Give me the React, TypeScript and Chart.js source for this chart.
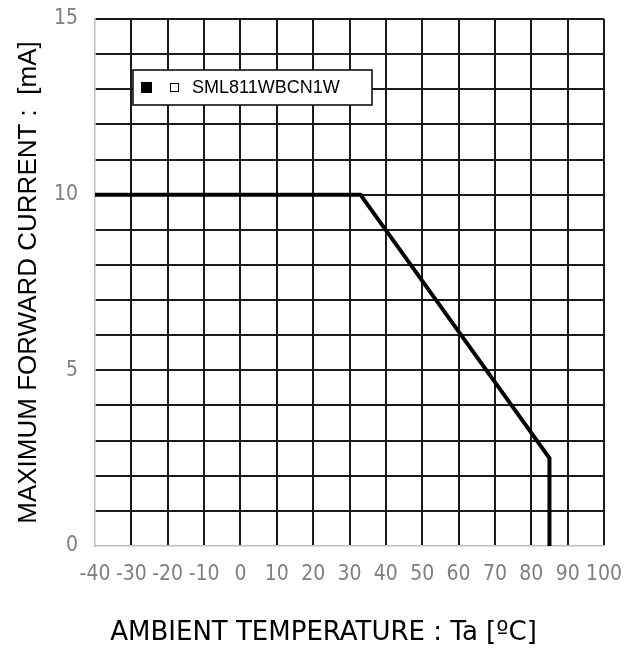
import React, { useEffect, useRef } from "react";
import { Chart, registerables } from "chart.js";

Chart.register(...registerables);

const temperatures = [-40, 33, 85, 85];
const currents = [10, 10, 2.5, 0];
const seriesName = "SML811WBCN1W";
const xTitle = "AMBIENT TEMPERATURE : Ta [ºC]";
const yTitle = "MAXIMUM FORWARD CURRENT :  [mA]";
const xMin = -40, xMax = 100, xStep = 10;
const yMin = 0, yMax = 15, yStep = 1, yLabelEvery = 5;

const tickFont = '"Liberation Sans Narrow", "DejaVu Sans Condensed", "Liberation Sans", sans-serif';

const overlayPlugin = {
  id: "overlay",
  afterDraw(chart: any) {
    const { ctx, chartArea } = chart;
    ctx.save();
    // legend box
    const bx = chartArea.left + 38, by = chartArea.top + 51, bw = 239, bh = 35;
    ctx.fillStyle = "#fff";
    ctx.fillRect(bx, by, bw, bh);
    ctx.strokeStyle = "#000";
    ctx.lineWidth = 1.5;
    ctx.strokeRect(bx, by, bw, bh);
    ctx.fillStyle = "#000";
    ctx.fillRect(bx + 8, by + 12, 11, 11);
    ctx.lineWidth = 1;
    ctx.strokeRect(bx + 37.5, by + 13.5, 8, 8);
    ctx.font = '18px "Liberation Sans", Arial, sans-serif';
    ctx.textBaseline = "middle";
    ctx.textAlign = "left";
    ctx.fillText(seriesName, bx + 59, by + 18);
    // x title
    ctx.font = '26px "DejaVu Sans", Verdana, sans-serif';
    ctx.textAlign = "center";
    ctx.textBaseline = "middle";
    ctx.fillText(xTitle, (chartArea.left + chartArea.right) / 2 - 26, 633);
    // y title
    ctx.translate(29, (chartArea.top + chartArea.bottom) / 2);
    ctx.rotate(-Math.PI / 2);
    ctx.font = '26px "Liberation Sans", Arial, sans-serif';
    ctx.fillText(yTitle, 0, 0);
    ctx.restore();
  },
};

export default function App() {
  const ref = useRef<HTMLCanvasElement>(null);
  useEffect(() => {
    if (!ref.current) return;
    const chart = new Chart(ref.current, {
      type: "line",
      data: {
        datasets: [
          {
            label: seriesName,
            data: temperatures.map((t, i) => ({ x: t, y: currents[i] })),
            borderColor: "#000",
            borderWidth: 4,
            pointRadius: 0,
            borderJoinStyle: "miter",
            fill: false,
            tension: 0,
          },
        ],
      },
      options: {
        responsive: false,
        animation: false,
        layout: { padding: { top: 19, right: 28, left: 0, bottom: 0 } },
        plugins: { legend: { display: false }, tooltip: { enabled: false } },
        scales: {
          x: {
            type: "linear",
            min: xMin,
            max: xMax,
            afterFit: (s: any) => {
              s.height = 118;
              s.paddingLeft = 0;
              s.paddingRight = 0;
            },
            ticks: {
              stepSize: xStep,
              autoSkip: false,
              maxRotation: 0,
              padding: 16,
              color: "#7f7f7f",
              font: { family: tickFont, size: 21 },
              callback: (v: any) => String(v),
            },
            grid: {
              drawTicks: false,
              lineWidth: 2,
              color: (c: any) => (c.tick && c.tick.value === xMin ? "rgba(0,0,0,0)" : "#1a1a1a"),
            },
            border: { color: "#c0c0c0", width: 1.5 },
          },
          y: {
            min: yMin,
            max: yMax,
            afterFit: (s: any) => {
              s.width = 95;
              s.paddingTop = 0;
              s.paddingBottom = 0;
            },
            ticks: {
              stepSize: yStep,
              autoSkip: false,
              padding: 17,
              color: "#7f7f7f",
              font: { family: tickFont, size: 21 },
              callback: (v: any) => (v % yLabelEvery === 0 ? String(v) : ""),
            },
            grid: {
              drawTicks: false,
              lineWidth: 2,
              color: (c: any) => (c.tick && c.tick.value === yMin ? "rgba(0,0,0,0)" : "#1a1a1a"),
            },
            border: { color: "#c0c0c0", width: 1.5 },
          },
        },
      },
      plugins: [overlayPlugin],
    } as any);
    return () => chart.destroy();
  }, []);
  return (
    <div style={{ position: "absolute", left: 0, top: 0, width: 632, height: 664, background: "#fff" }}>
      <canvas ref={ref} width={632} height={664} style={{ display: "block" }} />
    </div>
  );
}
